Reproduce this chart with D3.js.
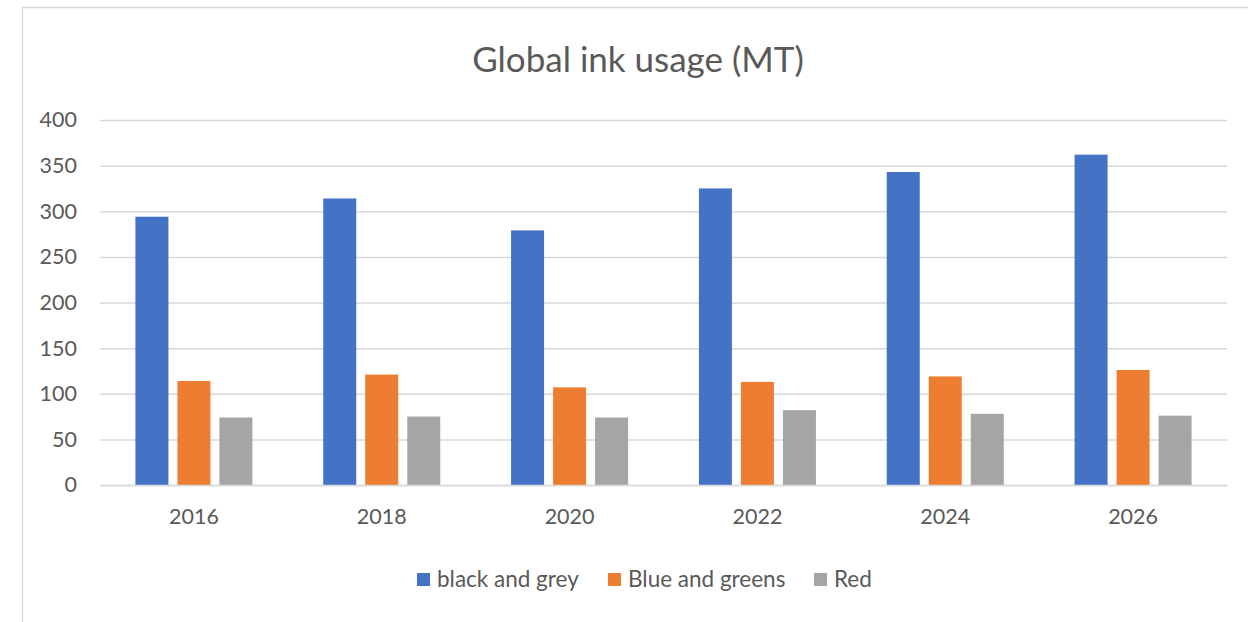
<!DOCTYPE html>
<html><head><meta charset="utf-8">
<script src="https://cdn.jsdelivr.net/npm/d3@7"></script>
<style>html,body{margin:0;padding:0;background:#fff;}svg{display:block;font-family:Lato,"Open Sans",sans-serif;}</style>
</head><body><svg id="c" width="1248" height="622"></svg>
<script>
const categories = ["2016","2018","2020","2022","2024","2026"];
const seriesNames = ["black and grey","Blue and greens","Red"];
const blackGrey = [294, 314, 279, 325, 343, 362];
const blueGreens = [114, 121, 107, 113, 119, 126];
const red = [74, 75, 74, 82, 78, 76];
const yTicks = [0,50,100,150,200,250,300,350,400];
const colors = ["#4472C4","#ED7D31","#A5A5A5"];
const seriesValues = [blackGrey, blueGreens, red];

const svg = d3.select("#c");
const textColor = "#595959";
// outer border
svg.append("path").attr("d","M22.5,622 L22.5,7.5 L1248,7.5").attr("fill","none").attr("stroke","#d9d9d9").attr("stroke-width",1.5);

const x0 = d3.scaleBand().domain(categories).range([100,1227]).paddingInner(0.377).paddingOuter(0.1885);
const x1 = d3.scaleBand().domain(seriesNames).range([0,x0.bandwidth()]).paddingInner(0.214);
const y = d3.scaleLinear().domain([0,400]).range([485,120]);

// gridlines
const yAxis = d3.axisLeft(y).tickValues(yTicks).tickSize(-(1227-100)).tickPadding(23);
const gy = svg.append("g").attr("transform","translate(100,0)").call(yAxis);
gy.select(".domain").remove();
gy.selectAll(".tick line").attr("stroke","#d9d9d9").attr("stroke-width",1.5);
gy.selectAll(".tick text").attr("fill",textColor).attr("font-size",21.5).attr("font-family","Lato");

// bars
const rows = categories.map((c,i)=>({cat:c, vals: seriesNames.map((s,j)=>({s, v: seriesValues[j][i], j}))}));
const g = svg.append("g");
g.selectAll("g.grp").data(rows).join("g").attr("class","grp")
 .attr("transform",d=>`translate(${x0(d.cat)},0)`)
 .selectAll("rect").data(d=>d.vals).join("rect")
 .attr("x",d=>x1(d.s)).attr("width",x1.bandwidth())
 .attr("y",d=>y(d.v)).attr("height",d=>y(0)-y(d.v))
 .attr("fill",d=>colors[d.j]);

// x axis
const xAxis = d3.axisBottom(x0).tickSize(0).tickPadding(24);
const gx = svg.append("g").attr("transform","translate(0,485)").call(xAxis);
gx.select(".domain").attr("stroke","#d9d9d9").attr("stroke-width",1.5);
gx.selectAll(".tick text").attr("fill",textColor).attr("font-size",21.5).attr("font-family","Lato");

// title
svg.append("text").attr("x",638).attr("y",72).attr("text-anchor","middle")
 .attr("fill",textColor).attr("font-size",35).text("Global ink usage (MT)");

// legend
const legendX = [417, 608, 814];
const lg = svg.append("g");
seriesNames.forEach((s,i)=>{
  lg.append("rect").attr("x",legendX[i]).attr("y",573).attr("width",13).attr("height",13).attr("fill",colors[i]);
  lg.append("text").attr("x",legendX[i]+20).attr("y",587).attr("fill",textColor).attr("font-size",22.5).text(s);
});
</script></body></html>
